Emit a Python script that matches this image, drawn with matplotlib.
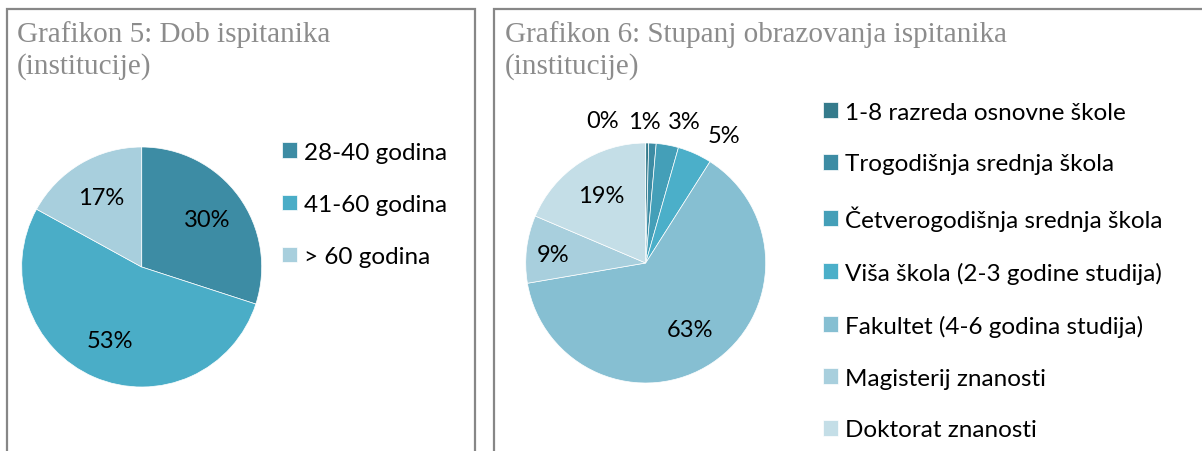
import matplotlib
matplotlib.use("Agg")
import matplotlib.pyplot as plt
from matplotlib.patches import Rectangle

# Grafikon 5: dob ispitanika
dob_kategorije = ["28-40 godina", "41-60 godina", "> 60 godina"]
dob_postoci = [30, 53, 17]

# Grafikon 6: stupanj obrazovanja
obr_kategorije = [
    "1-8 razreda osnovne škole",
    "Trogodišnja srednja škola",
    "Četverogodišnja srednja škola",
    "Viša škola (2-3 godine studija)",
    "Fakultet (4-6 godina studija)",
    "Magisterij znanosti",
    "Doktorat znanosti",
]
obr_postoci = [0.4, 1.0, 3.0, 4.6, 63.3, 9.1, 18.6]

boje_dob = ["#3d8ca4", "#4aadc7", "#a8cfdd"]
boje_obr = ["#357b8c", "#3d8ca4", "#449fb8", "#4bafc9", "#86bfd2", "#a8cfdd", "#c4dee7"]

W, H = 1202, 452
fig = plt.figure(figsize=(W / 100, H / 100), dpi=100)

SANS = ["Lato", "DejaVu Sans"]
SERIF = ["Liberation Serif", "DejaVu Serif"]
FS = 17
FS_LEG = 17.5


def px_axes(cx, cy, r):
    return fig.add_axes([(cx - r) / W, 1 - (cy + r) / H, 2 * r / W, 2 * r / H])


# okviri
for x0, x1 in [(7, 475), (494, 1215)]:
    fig.patches.append(Rectangle((x0 / W, -0.1), (x1 - x0) / W, 1.1 - 10 / H,
                                 transform=fig.transFigure, fill=False,
                                 edgecolor="#878787", linewidth=1.6))

# naslovi
for x, t in [(17, "Grafikon 5: Dob ispitanika"), (505, "Grafikon 6: Stupanj obrazovanja ispitanika")]:
    fig.text(x / W, 1 - 42 / H, t, family=SERIF, fontsize=21, color="#8c8c8c", va="baseline")
    fig.text(x / W, 1 - 74 / H, "(institucije)", family=SERIF, fontsize=21, color="#8c8c8c", va="baseline")

# lijevi graf
ax1 = px_axes(141.7, 268, 120)
w1, _, a1 = ax1.pie(dob_postoci, colors=boje_dob, startangle=90, counterclock=False,
                    autopct="%.0f%%", pctdistance=0.67, radius=1,
                    wedgeprops=dict(edgecolor="white", linewidth=0.5),
                    textprops=dict(family=SANS, fontsize=FS, color="black"))
ax1.set_xlim(-1, 1)
ax1.set_ylim(-1, 1)
ax1.legend(w1, dob_kategorije, loc="center left", bbox_to_anchor=(282 / W, 1 - 205.5 / H),
           bbox_transform=fig.transFigure, frameon=False, prop=dict(family=SANS, size=FS_LEG),
           handlelength=0.62, handleheight=0.62, handletextpad=0.28, labelspacing=1.28,
           borderpad=0, borderaxespad=0)

# desni graf
ax2 = px_axes(645.7, 264, 120)
w2, _, a2 = ax2.pie(obr_postoci, colors=boje_obr, startangle=90, counterclock=False,
                    autopct="%.0f%%", pctdistance=0.67, radius=1,
                    wedgeprops=dict(edgecolor="white", linewidth=0.5),
                    textprops=dict(family=SANS, fontsize=FS, color="black"))
ax2.set_xlim(-1, 1)
ax2.set_ylim(-1, 1)
# male oznake iznad kruga
pomaci = {0: (-0.36, 1.19), 1: (-0.01, 1.18), 2: (0.32, 1.18), 3: (0.65, 1.06), 5: (-0.77, 0.07)}
for i, (x, y) in pomaci.items():
    a2[i].set_position((x, y))
ax2.legend(w2, obr_kategorije, loc="center left", bbox_to_anchor=(823 / W, 1 - 272 / H),
           bbox_transform=fig.transFigure, frameon=False, prop=dict(family=SANS, size=FS_LEG),
           handlelength=0.62, handleheight=0.62, handletextpad=0.28, labelspacing=1.27,
           borderpad=0, borderaxespad=0)

fig.savefig("out.png", dpi=100)
